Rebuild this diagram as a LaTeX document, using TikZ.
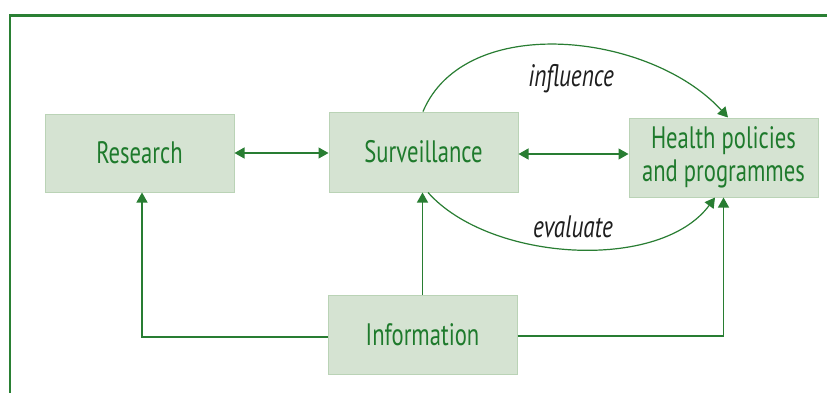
\documentclass[tikz,border=0pt]{standalone}
\usepackage{fontspec}
\setmainfont{PT Sans}[FakeStretch=0.73]
\newfontfamily\labelfont{PT Sans}[FakeStretch=0.75]
\usetikzlibrary{arrows.meta}
\definecolor{frameg}{RGB}{42,128,52}
\definecolor{lineg}{RGB}{40,125,50}
\definecolor{textg}{RGB}{30,122,44}
\definecolor{boxfill}{RGB}{213,227,210}
\definecolor{boxline}{RGB}{186,211,182}
\definecolor{labelc}{RGB}{30,30,30}
\tikzset{
  stagebox/.style={draw=boxline, line width=1pt, fill=boxfill, text=textg,
    minimum width=189pt, align=center, inner sep=0pt,
    font=\fontsize{31}{33}\selectfont},
  link/.style={draw=lineg, line width=1.2pt},
  tip/.style={-{Triangle[length=10pt,width=11pt]}},
  twotip/.style={{Triangle[length=10pt,width=11pt]}-{Triangle[length=10pt,width=11pt]}},
  arclabel/.style={text=labelc, anchor=base, font=\labelfont\fontsize{31}{33}\selectfont\itshape}
}
\begin{document}
\begin{tikzpicture}[x=1pt, y=-1pt]
\useasboundingbox (0,0) rectangle (827,392);
\clip (0,0) rectangle (827,392);
\fill[white] (0,0) rectangle (827,392);

% open frame along the left and top
\draw[frameg, line width=2.4pt] (10,400) -- (10,15.5) -- (840,15.5);

% stages
\node[stagebox, minimum height=78pt] (res) at (139.5,153) {Research};
\node[stagebox, minimum height=80pt] (sur) at (423.5,152) {Surveillance};
\node[stagebox, minimum height=79pt] (hp)  at (723.5,157.5) {Health policies\\and programmes};
\node[stagebox, minimum height=79pt] (info) at (422.5,334.5) {Information};

% two-way links
\draw[link, twotip] (res.east) -- (res.east -| sur.west);
\draw[link, twotip] ([yshift=-2pt]sur.east) -- ([yshift=-2pt]sur.east -| hp.west);

% information feeds every stage
\draw[link, tip] ([yshift=-2.5pt]info.west) -| ([xshift=2.5pt]res.south);
\draw[link, tip] (info.north) -- (info.north |- sur.south);
\draw[link, tip] ([yshift=-1.5pt]info.east) -| (hp.south);

% surveillance influences and evaluates policy
\draw[link, tip] ([xshift=-0.5pt]sur.north) .. controls (465,12) and (650,32) .. ([xshift=4.5pt]hp.north);
\draw[link, tip] ([xshift=4.5pt]sur.south) .. controls (490,262) and (660,272) .. ([xshift=-8.5pt]hp.south);

\node[arclabel] (linf) at (571,86) {influence};
\node[arclabel] (leva) at (573,237) {evaluate};
\end{tikzpicture}
\end{document}
